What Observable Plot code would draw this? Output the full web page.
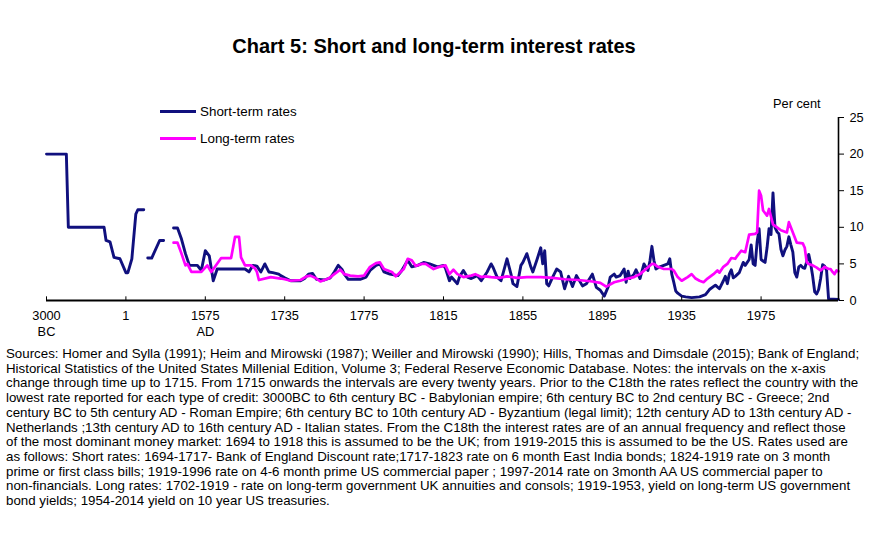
<!DOCTYPE html>
<html>
<head>
<meta charset="utf-8">
<script src="https://cdn.jsdelivr.net/npm/d3@7"></script>
<script src="https://cdn.jsdelivr.net/npm/@observablehq/plot@0.6"></script>
<style>
  html, body { margin: 0; padding: 0; background: #fff; }
  body { width: 883px; height: 544px; position: relative; overflow: hidden;
         font-family: "Liberation Sans", Arial, Helvetica, sans-serif; color: #000; }
  #title { position: absolute; left: 0; width: 868px; top: 35px; text-align: center;
           font-size: 20px; font-weight: bold; }
  #chart { position: absolute; left: 0; top: 80px; }
  .legend { position: absolute; left: 160px; font-size: 13.4px; display: flex; align-items: center; }
  .legend span.sw { display: inline-block; width: 36px; height: 3px; margin-right: 4px; }
  #unit { position: absolute; left: 773px; top: 96px; font-size: 12.8px; }
  #notes { position: absolute; left: 6px; top: 347px; font-size: 13.3px; line-height: 14.7px; white-space: nowrap; }
</style>
</head>
<body>
<div id="title">Chart 5: Short and long-term interest rates</div>
<div id="chart"></div>
<div class="legend" style="top:104px"><span class="sw" style="background:#10107e"></span>Short-term rates</div>
<div class="legend" style="top:131px"><span class="sw" style="background:#ff00ff"></span>Long-term rates</div>
<div id="unit">Per cent</div>
<div id="notes">
Sources: Homer and Sylla (1991); Heim and Mirowski (1987); Weiller and Mirowski (1990); Hills, Thomas and Dimsdale (2015); Bank of England;<br>
Historical Statistics of the United States Millenial Edition, Volume 3; Federal Reserve Economic Database. Notes: the intervals on the x-axis<br>
change through time up to 1715. From 1715 onwards the intervals are every twenty years. Prior to the C18th the rates reflect the country with the<br>
lowest rate reported for each type of credit: 3000BC to 6th century BC - Babylonian empire; 6th century BC to 2nd century BC - Greece; 2nd<br>
century BC to 5th century AD - Roman Empire; 6th century BC to 10th century AD - Byzantium (legal limit); 12th century AD to 13th century AD -<br>
Netherlands ;13th century AD to 16th century AD - Italian states. From the C18th the interest rates are of an annual frequency and reflect those<br>
of the most dominant money market: 1694 to 1918 this is assumed to be the UK; from 1919-2015 this is assumed to be the US. Rates used are<br>
as follows: Short rates: 1694-1717- Bank of England Discount rate;1717-1823 rate on 6 month East India bonds; 1824-1919 rate on 3 month<br>
prime or first class bills; 1919-1996 rate on 4-6 month prime US commercial paper ; 1997-2014 rate on 3month AA US commercial paper to<br>
non-financials. Long rates: 1702-1919 - rate on long-term government UK annuities and consols; 1919-1953, yield on long-term US government<br>
bond yields; 1954-2014 yield on 10 year US treasuries.
</div>
<script>
// Category axis: the period index runs 0..399; before 1735 one step covers a
// varying span of time, from 1735 on one step is one year.
const tickPos = [0, 40, 80, 120, 160, 200, 240, 280, 320, 360];
const tickLabels = ["3000\nBC", "1", "1575\nAD", "1735", "1775", "1815", "1855", "1895", "1935", "1975"];
const firstAnnualYear = 1735;
const firstAnnualPos = 120;
const lastPos = 399;
const yTicks = [0, 5, 10, 15, 20, 25];

// Pre-1735 periods: [period index, rate]; NaN marks a gap in the record.
const earlyShort = [
  [0, 20], [10, 20], [11, 10], [29, 10], [30, 8.2], [32, 8.0], [34, 5.9], [37, 5.7],
  [40, 3.8], [41, 3.8], [43, 5.7], [45, 11.8], [46, 12.4], [49, 12.4], [50, NaN],
  [51, 5.8], [53, 5.8], [57, 8.2], [59, 8.2], [61, NaN],
  [64, 9.9], [66, 9.9], [68, 8.4], [70, 6.4], [72, 4.8], [76, 4.8], [78, 4.1], [80, 6.8],
  [82, 6.1], [84, 2.7], [86, 4.3], [100, 4.3], [102, 3.9], [104, 4.8], [106, 4.7],
  [108, 3.9], [110, 5.0], [112, 3.9], [114, 3.8], [117, 3.6], [118, 3.4]
];
const earlyLong = [
  [64, 7.9], [66, 7.9], [68, 6.4], [70, 4.8], [71, 5.0], [73, 3.9], [78, 3.9], [81, 4.8],
  [83, 3.9], [88, 5.8], [93, 5.8], [95, 8.7], [97, 8.7], [98, 5.9], [100, 4.8], [103, 4.8],
  [105, 4.4], [106, 3.9], [107, 2.8], [113, 3.2], [118, 3.0]
];

// From 1735: [year, rate]
const shortAnnual = [
  [1735, 3.1], [1738, 2.7], [1743, 2.7], [1745, 3.0], [1747, 3.6], [1749, 3.7], [1751, 2.9],
  [1755, 2.8], [1758, 3.1], [1760, 3.9], [1762, 4.8], [1764, 4.2], [1765, 3.6], [1767, 2.9],
  [1773, 2.9], [1776, 3.2], [1778, 4.1], [1781, 4.8], [1783, 5.0], [1785, 3.9], [1788, 3.6],
  [1792, 3.4], [1794, 4.1], [1797, 5.5], [1799, 4.6], [1802, 4.8], [1805, 5.2], [1808, 5.0],
  [1812, 4.6], [1815, 4.8], [1816, 4.4], [1818, 2.7], [1819, 3.2], [1822, 2.3], [1823, 3.2],
  [1825, 4.1], [1827, 3.2], [1829, 3.0], [1832, 3.4], [1834, 2.7], [1837, 3.9], [1839, 5.0],
  [1840, 4.5], [1842, 3.2], [1844, 2.7], [1847, 5.7], [1849, 3.6], [1850, 2.3], [1852, 1.9],
  [1854, 4.8], [1855, 5.2], [1857, 6.4], [1859, 4.6], [1860, 3.9], [1862, 5.5], [1864, 7.2],
  [1865, 5.0], [1866, 6.8], [1867, 2.3], [1868, 2.0], [1870, 3.2], [1872, 4.3], [1874, 3.9],
  [1876, 1.6], [1878, 3.3], [1880, 1.9], [1882, 3.4], [1885, 2.0], [1887, 2.3], [1890, 3.6],
  [1892, 1.8], [1894, 1.4], [1896, 0.6], [1898, 1.9], [1899, 3.2], [1901, 3.6], [1902, 3.2],
  [1904, 3.4], [1906, 4.3], [1907, 2.5], [1908, 4.0], [1909, 3.0], [1911, 3.6], [1912, 4.2],
  [1914, 3.0], [1916, 5.0], [1918, 4.1], [1919, 5.4], [1920, 7.4], [1921, 5.5], [1922, 4.3],
  [1924, 4.6], [1926, 4.8], [1928, 5.0], [1929, 5.7], [1930, 3.6], [1931, 2.5], [1932, 1.3],
  [1933, 1.0], [1935, 0.6], [1937, 0.5], [1940, 0.4], [1944, 0.5], [1947, 0.8], [1949, 1.5],
  [1952, 2.1], [1954, 1.6], [1956, 2.7], [1957, 3.3], [1958, 2.3], [1959, 3.6], [1960, 4.2],
  [1961, 3.1], [1962, 3.3], [1964, 3.8], [1965, 4.5], [1966, 5.2], [1967, 4.8], [1969, 5.6],
  [1970, 7.6], [1971, 5.0], [1972, 4.8], [1973, 8.0], [1974, 9.8], [1975, 5.6], [1976, 5.4],
  [1977, 5.2], [1978, 7.2], [1979, 9.8], [1980, 9.0], [1981, 14.7], [1982, 10.0], [1983, 9.4],
  [1984, 9.1], [1985, 7.0], [1986, 6.1], [1987, 6.9], [1988, 7.4], [1989, 8.7], [1990, 7.6],
  [1991, 6.6], [1992, 3.8], [1993, 3.2], [1994, 4.6], [1995, 4.8], [1996, 4.5], [1997, 4.4],
  [1998, 5.3], [1999, 6.3], [2000, 5.0], [2001, 3.3], [2002, 1.2], [2003, 0.9], [2004, 1.5],
  [2005, 3.0], [2006, 4.9], [2007, 4.7], [2008, 4.1], [2009, 0.2], [2014, 0.15]
];
const longAnnual = [
  [1735, 2.9], [1738, 2.7], [1743, 2.8], [1746, 3.3], [1748, 3.4], [1751, 3.0], [1753, 2.6],
  [1757, 3.0], [1760, 3.6], [1763, 4.2], [1765, 3.6], [1768, 3.4], [1772, 3.3], [1775, 3.4],
  [1778, 4.6], [1781, 5.1], [1783, 5.2], [1785, 4.3], [1789, 3.9], [1791, 3.3], [1795, 4.3],
  [1797, 5.7], [1799, 5.5], [1801, 4.7], [1804, 5.0], [1806, 5.0], [1810, 4.3], [1813, 4.6],
  [1816, 4.8], [1818, 3.6], [1820, 4.2], [1822, 3.6], [1825, 3.2], [1829, 3.4], [1831, 3.6],
  [1834, 3.2], [1836, 3.3], [1839, 3.2], [1843, 3.1], [1847, 3.3], [1852, 3.1], [1857, 3.2],
  [1864, 3.2], [1870, 3.1], [1876, 2.9], [1883, 2.8], [1890, 2.6], [1894, 2.4], [1897, 1.9],
  [1901, 2.5], [1904, 2.7], [1908, 3.0], [1911, 3.2], [1914, 3.6], [1917, 4.3], [1920, 5.0],
  [1921, 5.0], [1923, 4.6], [1926, 4.3], [1930, 4.3], [1931, 4.1], [1933, 3.2], [1935, 2.7],
  [1938, 3.2], [1940, 3.6], [1942, 3.0], [1944, 2.7], [1946, 2.5], [1948, 3.0], [1951, 3.6],
  [1953, 4.1], [1954, 3.8], [1956, 4.6], [1958, 5.0], [1960, 5.8], [1962, 5.7], [1963, 6.1],
  [1965, 6.8], [1967, 6.6], [1969, 9.0], [1972, 9.1], [1973, 9.3], [1974, 15.0], [1975, 14.3],
  [1976, 12.3], [1978, 11.6], [1979, 12.5], [1981, 10.4], [1982, 10.2], [1985, 9.6], [1988, 9.3],
  [1989, 10.7], [1991, 9.3], [1993, 7.9], [1996, 7.8], [1997, 7.2], [1998, 5.2], [1999, 5.0],
  [2001, 4.8], [2003, 4.5], [2005, 4.1], [2007, 4.6], [2009, 4.3], [2010, 4.3], [2011, 3.9],
  [2012, 3.6], [2013, 4.1], [2014, 4.0]
];

const toRows = (early, annual) => [
  ...early.map(([pos, rate]) => ({pos, rate})),
  ...annual.map(([year, rate]) => ({pos: year - firstAnnualYear + firstAnnualPos, rate}))
];
const shortRows = toRows(earlyShort, shortAnnual);
const longRows = toRows(earlyLong, longAnnual);

const navy = "#10107e";
const magenta = "#ff00ff";

const chart = Plot.plot({
  width: 883,
  height: 265,
  marginLeft: 46,
  marginRight: 45,
  marginTop: 37,
  marginBottom: 45,
  style: {fontFamily: "Liberation Sans, Arial, sans-serif", fontSize: "12.5px", color: "#000", background: "#fff"},
  x: {domain: [0, lastPos]},
  y: {domain: [0, 25]},
  marks: [
    Plot.line(shortRows, {x: "pos", y: "rate", stroke: navy, strokeWidth: 2.9, strokeLinejoin: "round"}),
    Plot.line(longRows, {x: "pos", y: "rate", stroke: magenta, strokeWidth: 2.7, strokeLinejoin: "round"}),
    Plot.ruleY([0], {stroke: "#000", strokeWidth: 2}),
    Plot.ruleX([lastPos], {y1: 0, y2: 25, stroke: "#000", strokeWidth: 1.6}),
    Plot.ruleX(tickPos, {y1: 0, y2: 0.5, stroke: "#000", strokeWidth: 1}),
    Plot.axisX({
      ticks: tickPos,
      tickFormat: d => tickLabels[tickPos.indexOf(d)],
      tickSize: 0,
      tickPadding: 9,
      lineHeight: 1.2,
      fontSize: 12.8,
      label: null
    }),
    Plot.axisY({
      anchor: "right",
      ticks: yTicks,
      tickSize: 5,
      tickPadding: 6,
      fontSize: 12.8,
      label: null
    })
  ]
});
document.getElementById("chart").appendChild(chart);
</script>
</body>
</html>
